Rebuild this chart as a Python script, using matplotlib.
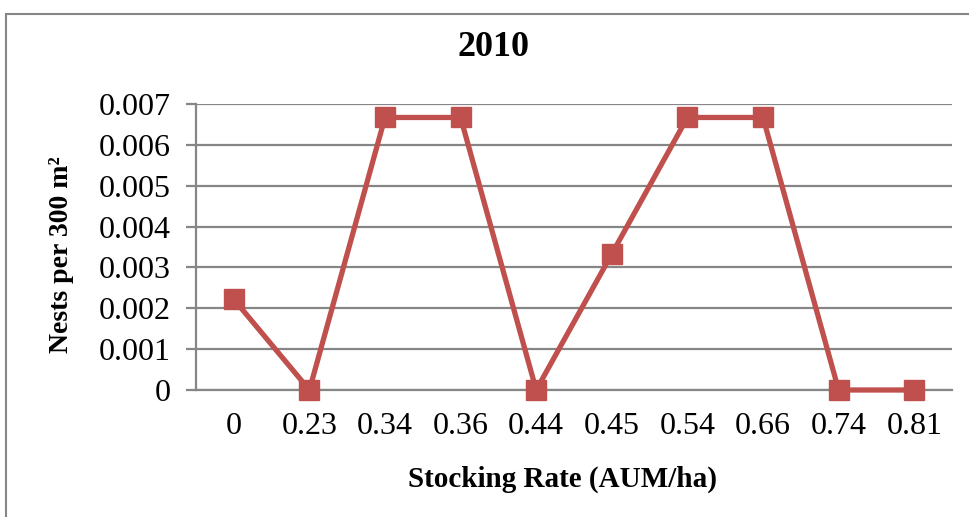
import matplotlib.pyplot as plt
from matplotlib.patches import Rectangle

# nests per 300 m2 at each stocking rate, 2010
rates = ['0', '0.23', '0.34', '0.36', '0.44', '0.45', '0.54', '0.66', '0.74', '0.81']
nests = [0.00222, 0.0, 0.00667, 0.00667, 0.0, 0.00333, 0.00667, 0.00667, 0.0, 0.0]
yticks = [0, 0.001, 0.002, 0.003, 0.004, 0.005, 0.006, 0.007]
ytick_labels = ['0', '0.001', '0.002', '0.003', '0.004', '0.005', '0.006', '0.007']

plt.rcParams['font.family'] = ['Liberation Serif', 'DejaVu Serif']

fig = plt.figure(figsize=(9.69, 5.17), dpi=100)
W, H = 969, 517
ax = fig.add_axes([196 / W, 1 - 390 / H, (952 - 196) / W, (390 - 104) / H])

grey = '#868686'
x = range(len(rates))
ax.plot(x, nests, color='#C0504D', lw=3.8, marker='s', markersize=14,
        markeredgecolor='#C0504D', clip_on=False, zorder=3)

ax.set_xlim(-0.5, len(rates) - 0.5)
ax.set_ylim(0, 0.007)
ax.set_yticks(yticks)
ax.set_yticklabels(ytick_labels)
ax.set_xticks(list(x))
ax.set_xticklabels(rates)
ax.yaxis.grid(True, color=grey, lw=1.6)
ax.set_axisbelow(True)
for s in ['top', 'right']:
    ax.spines[s].set_visible(False)
ax.spines['left'].set_color(grey)
ax.spines['left'].set_linewidth(1.6)
ax.spines['bottom'].set_color(grey)
ax.spines['bottom'].set_linewidth(1.6)
ax.tick_params(axis='y', length=7, width=1.6, color=grey, labelsize=23, pad=11)
ax.tick_params(axis='x', length=0, labelsize=23, pad=16)

# title and axis labels placed on the figure
fig.text(494 / W, 1 - 48 / H, '2010', fontsize=26, fontweight='bold',
         ha='center', va='center')
fig.text(563 / W, 1 - 479 / H, 'Stocking Rate (AUM/ha)', fontsize=21,
         fontweight='bold', ha='center', va='center')
fig.text(62 / W, 1 - 255 / H, 'Nests per 300 m²', fontsize=20,
         fontweight='bold', ha='center', va='center', rotation=90)

# chart area border
fig.patches.append(Rectangle((6 / W, -0.05), 1.1, 1 - 14 / H + 0.05,
                             transform=fig.transFigure, fill=False,
                             edgecolor=grey, lw=1.5))

fig.savefig('out.png', dpi=100)
